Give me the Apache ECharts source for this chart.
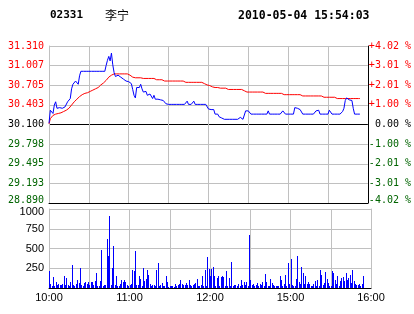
<!DOCTYPE html>
<html><head><meta charset="utf-8">
<script src="https://cdn.jsdelivr.net/npm/echarts@6/dist/echarts.min.js"></script>
<style>html,body{margin:0;padding:0;background:#fff}#c{width:414px;height:314px}</style>
</head><body><div id="c"></div>
<script>
const stockCode = '02331';
const stockName = '李宁';
const stamp = '2010-05-04 15:54:03';
const priceMin = 28.890, priceMax = 31.310;
const priceTickLabels = ['28.890','29.193','29.495','29.798','30.100','30.403','30.705','31.007','31.310'];
const pctTickLabels = ['-4.02 %','-3.01 %','-2.01 %','-1.00 %',' 0.00 %','+1.00 %','+2.01 %','+3.01 %','+4.02 %'];
const volTickLabels = ['', '250', '500', '750', '1000'];
const timeTickLabels = ['10:00','11:00','12:00','15:00','16:00'];

const price = [
30.12,30.32,30.35,30.27,30.40,30.45,30.35,30.33,30.36,30.33,
30.35,30.35,30.37,30.40,30.45,30.47,30.50,30.65,30.72,30.75,
30.77,30.75,30.72,30.85,30.92,30.92,30.92,30.92,30.92,30.92,
30.92,30.92,30.92,30.92,30.92,30.92,30.92,30.92,30.92,30.92,
30.92,30.92,30.92,31.01,31.09,31.15,31.08,31.20,31.02,30.90,
30.84,30.85,30.86,30.86,30.83,30.84,30.80,30.80,30.77,30.77,
30.76,30.75,30.73,30.64,30.55,30.51,30.67,30.68,30.67,30.72,
30.65,30.60,30.57,30.61,30.55,30.53,30.57,30.60,30.50,30.55,
30.49,30.50,30.49,30.51,30.48,30.48,30.47,30.46,30.42,30.41,
30.41,30.41,30.41,30.41,30.41,30.41,30.41,30.41,30.41,30.41,
30.41,30.41,30.41,30.41,30.46,30.41,30.41,30.41,30.41,30.46,
30.41,30.41,30.41,30.41,30.41,30.41,30.41,30.41,30.41,30.41,
30.34,30.33,30.33,30.33,30.33,30.26,30.26,30.26,30.22,30.21,
30.20,30.19,30.18,30.18,30.18,30.18,30.18,30.18,30.18,30.18,
30.18,30.18,30.18,30.18,30.21,30.18,30.18,30.18,30.31,30.31,
30.31,30.31,30.26,30.26,30.26,30.26,30.26,30.26,30.26,30.26,
30.26,30.26,30.26,30.26,30.26,30.31,30.26,30.26,30.26,30.26,
30.26,30.26,30.26,30.26,30.26,30.26,30.31,30.29,30.26,30.26,
30.26,30.26,30.26,30.26,30.26,30.36,30.36,30.35,30.34,30.33,
30.31,30.26,30.26,30.26,30.26,30.26,30.26,30.26,30.26,30.26,
30.26,30.31,30.29,30.32,30.26,30.26,30.26,30.26,30.26,30.26,
30.26,30.32,30.29,30.26,30.26,30.26,30.26,30.26,30.26,30.26,
30.26,30.30,30.35,30.47,30.51,30.49,30.48,30.48,30.47,30.35,
30.26,30.26,30.26,30.26,30.26
];

const avgPrice = [
30.11,30.19,30.22,30.24,30.25,30.26,30.27,30.27,30.28,30.28,
30.29,30.30,30.31,30.32,30.32,30.35,30.37,30.40,30.43,30.45,
30.47,30.49,30.51,30.53,30.55,30.56,30.57,30.58,30.59,30.59,
30.60,30.61,30.62,30.63,30.64,30.65,30.66,30.67,30.69,30.71,
30.73,30.74,30.76,30.78,30.81,30.83,30.84,30.86,30.87,30.88,
30.88,30.88,30.88,30.88,30.88,30.88,30.88,30.88,30.88,30.88,
30.88,30.86,30.85,30.83,30.82,30.82,30.82,30.82,30.82,30.82,
30.82,30.81,30.81,30.81,30.81,30.81,30.81,30.81,30.81,30.81,
30.79,30.79,30.79,30.79,30.79,30.79,30.77,30.77,30.77,30.77,
30.77,30.77,30.77,30.77,30.77,30.77,30.77,30.77,30.77,30.77,
30.77,30.77,30.77,30.75,30.75,30.75,30.75,30.75,30.75,30.75,
30.75,30.75,30.75,30.75,30.75,30.75,30.75,30.73,30.72,30.71,
30.70,30.70,30.69,30.68,30.67,30.67,30.67,30.67,30.66,30.66,
30.66,30.66,30.66,30.66,30.64,30.64,30.64,30.64,30.64,30.64,
30.64,30.64,30.64,30.64,30.64,30.64,30.64,30.62,30.60,30.60,
30.60,30.60,30.60,30.60,30.60,30.60,30.60,30.60,30.60,30.60,
30.60,30.60,30.58,30.58,30.58,30.58,30.58,30.58,30.58,30.58,
30.58,30.58,30.58,30.58,30.58,30.58,30.58,30.56,30.56,30.56,
30.56,30.56,30.56,30.56,30.56,30.56,30.56,30.56,30.56,30.56,
30.54,30.54,30.54,30.54,30.54,30.54,30.54,30.54,30.54,30.54,
30.54,30.54,30.54,30.54,30.54,30.54,30.52,30.52,30.52,30.52,
30.52,30.52,30.52,30.52,30.52,30.52,30.52,30.50,30.50,30.50,
30.50,30.50,30.50,30.50,30.50,30.50,30.50,30.50,30.50,30.50,
30.50,30.50,30.50,30.50,30.50
];

const volume = [
213,55,20,136,30,72,38,55,43,38,
55,158,38,132,38,25,72,285,38,30,
47,106,64,247,38,30,64,81,47,72,
38,72,72,38,94,192,30,30,85,481,
30,38,43,618,405,907,38,251,528,38,
149,30,30,55,98,72,106,72,38,30,
38,55,230,210,469,38,43,149,119,20,
247,85,119,222,162,55,30,43,43,20,
234,311,30,43,64,30,20,149,81,15,
20,30,20,15,55,20,43,55,106,55,
43,43,64,43,106,43,20,38,55,64,
115,30,20,43,158,30,234,20,396,243,
158,243,260,149,30,128,149,20,136,158,
136,30,209,20,128,25,328,20,38,38,
20,55,20,106,43,72,43,72,20,669,
98,43,55,30,38,64,20,55,43,72,
20,183,72,25,30,119,64,38,30,20,
20,20,158,106,30,55,170,30,311,55,
370,43,20,20,119,405,72,55,268,192,
55,158,55,72,55,20,30,55,85,25,
106,25,222,170,43,64,200,115,64,25,
30,209,192,106,55,149,30,85,128,136,
85,192,106,128,170,64,222,85,55,43,
38,55,20,55,149
];

// minute categories: morning 10:00-12:30, afternoon 14:31-16:00
function hm(t){const h=Math.floor(t/60),m=t%60;return (h<10?'0':'')+h+':'+(m<10?'0':'')+m;}
const times = [];
for (let t = 600; t <= 750; t++) times.push(hm(t));
for (let t = 871; t <= 960; t++) times.push(hm(t));

const mono = 'DejaVu Sans Mono';
const sans = 'Liberation Sans';
const GRAY = '#c0c0c0', RED = '#ff0000', GREEN = '#006400', BLACK = '#000000', BLUE = '#0000ff';

const priceRich = {
  r:{color:RED,fontFamily:mono,fontSize:10},
  k:{color:BLACK,fontFamily:mono,fontSize:10},
  g:{color:GREEN,fontFamily:mono,fontSize:10},
  gb:{color:GREEN,fontFamily:mono,fontSize:10,padding:[0,0,6,0]}
};
function priceFmt(labels){
  return function(v){
    const i = Math.round(v);
    const s = i < 4 ? (i === 0 ? 'gb' : 'g') : (i === 4 ? 'k' : 'r');
    return '{' + s + '|' + labels[i] + '}';
  };
}
const gridLineColors = priceTickLabels.map((_, i) => (i === 0 || i === 4) ? BLACK : GRAY);
const volLineColors = volTickLabels.map((_, i) => i === 0 ? BLACK : GRAY);
const volData = volume.map((v, i) => [i, v]);

const chart = echarts.init(document.getElementById('c'), null, {renderer:'canvas'});
chart.setOption({
  animation:false,
  backgroundColor:'#ffffff',
  title:[
    {text:stockCode,left:45,top:5,textStyle:{fontFamily:mono,fontWeight:'bold',fontSize:11,color:BLACK}},
    {text:stockName,left:100,top:4,textStyle:{fontFamily:'Noto Sans CJK SC',fontWeight:'normal',fontSize:12,color:BLACK}},
    {text:stamp,left:233,top:5,textStyle:{fontFamily:mono,fontWeight:'bold',fontSize:11.5,color:BLACK}}
  ],
  grid:[
    {left:49,top:46,width:322,height:157},
    {left:49,top:209,width:322,height:79}
  ],
  xAxis:[
    {type:'category',gridIndex:0,data:times,boundaryGap:false,
     axisLine:{show:true,onZero:false,lineStyle:{color:BLACK,width:1}},
     axisTick:{show:false},axisLabel:{show:false},
     splitLine:{show:true,interval:(i)=>i%30===0,lineStyle:{color:GRAY,width:1}}},
    {type:'category',gridIndex:1,data:times,boundaryGap:false,
     axisLine:{show:true,onZero:false,lineStyle:{color:BLACK,width:1}},
     axisTick:{show:false},
     axisLabel:{interval:(i,v)=>timeTickLabels.indexOf(v)>=0,fontFamily:sans,fontSize:11,color:BLACK,margin:4},
     splitLine:{show:true,interval:(i)=>i%30===0,lineStyle:{color:GRAY,width:1}}}
  ],
  yAxis:[
    {type:'value',gridIndex:0,min:0,max:8,interval:1,
     axisLine:{show:true,lineStyle:{color:GRAY}},axisTick:{show:false},
     splitLine:{show:true,lineStyle:{color:gridLineColors,width:1}},
     axisLabel:{margin:5,formatter:priceFmt(priceTickLabels),rich:priceRich}},
    {type:'value',gridIndex:0,min:0,max:8,interval:1,position:'right',
     axisLine:{show:true,lineStyle:{color:BLACK}},axisTick:{show:false},
     splitLine:{show:false},
     axisLabel:{margin:1,formatter:priceFmt(pctTickLabels),rich:priceRich}},
    {type:'value',gridIndex:0,min:priceMin,max:priceMax,show:false,splitLine:{show:false}},
    {type:'value',gridIndex:1,min:0,max:1000,interval:250,
     axisLine:{show:true,lineStyle:{color:GRAY}},axisTick:{show:false},
     splitLine:{show:true,lineStyle:{color:volLineColors,width:1}},
     axisLabel:{margin:5,fontFamily:sans,fontSize:11,color:BLACK,
       formatter:function(v){const i=Math.round(v/250);return i===4?'{t|'+volTickLabels[i]+'}':volTickLabels[i];},
       rich:{t:{fontFamily:sans,fontSize:11,color:BLACK,padding:[6,0,0,0]}}}},
    {type:'value',gridIndex:1,min:0,max:1000,interval:250,position:'right',
     axisLine:{show:true,lineStyle:{color:GRAY}},axisTick:{show:false},
     axisLabel:{show:false},splitLine:{show:false}}
  ],
  series:[
    {type:'line',xAxisIndex:0,yAxisIndex:2,data:avgPrice,symbol:'none',
     lineStyle:{color:RED,width:1},itemStyle:{color:RED},z:3},
    {type:'line',xAxisIndex:0,yAxisIndex:2,data:price,symbol:'none',
     lineStyle:{color:BLUE,width:1},itemStyle:{color:BLUE},z:4},
    {type:'custom',xAxisIndex:1,yAxisIndex:3,data:volData,encode:{x:0,y:1},z:3,
     renderItem:function(params, api){
       const top = api.coord([api.value(0), api.value(1)]);
       const base = api.coord([api.value(0), 0]);
       const x = Math.round(top[0]);
       const y = Math.round(top[1]);
       return {type:'rect',shape:{x:x,y:y,width:1,height:Math.round(base[1])-y},style:{fill:BLUE}};
     }}
  ]
});
</script>
</body></html>
